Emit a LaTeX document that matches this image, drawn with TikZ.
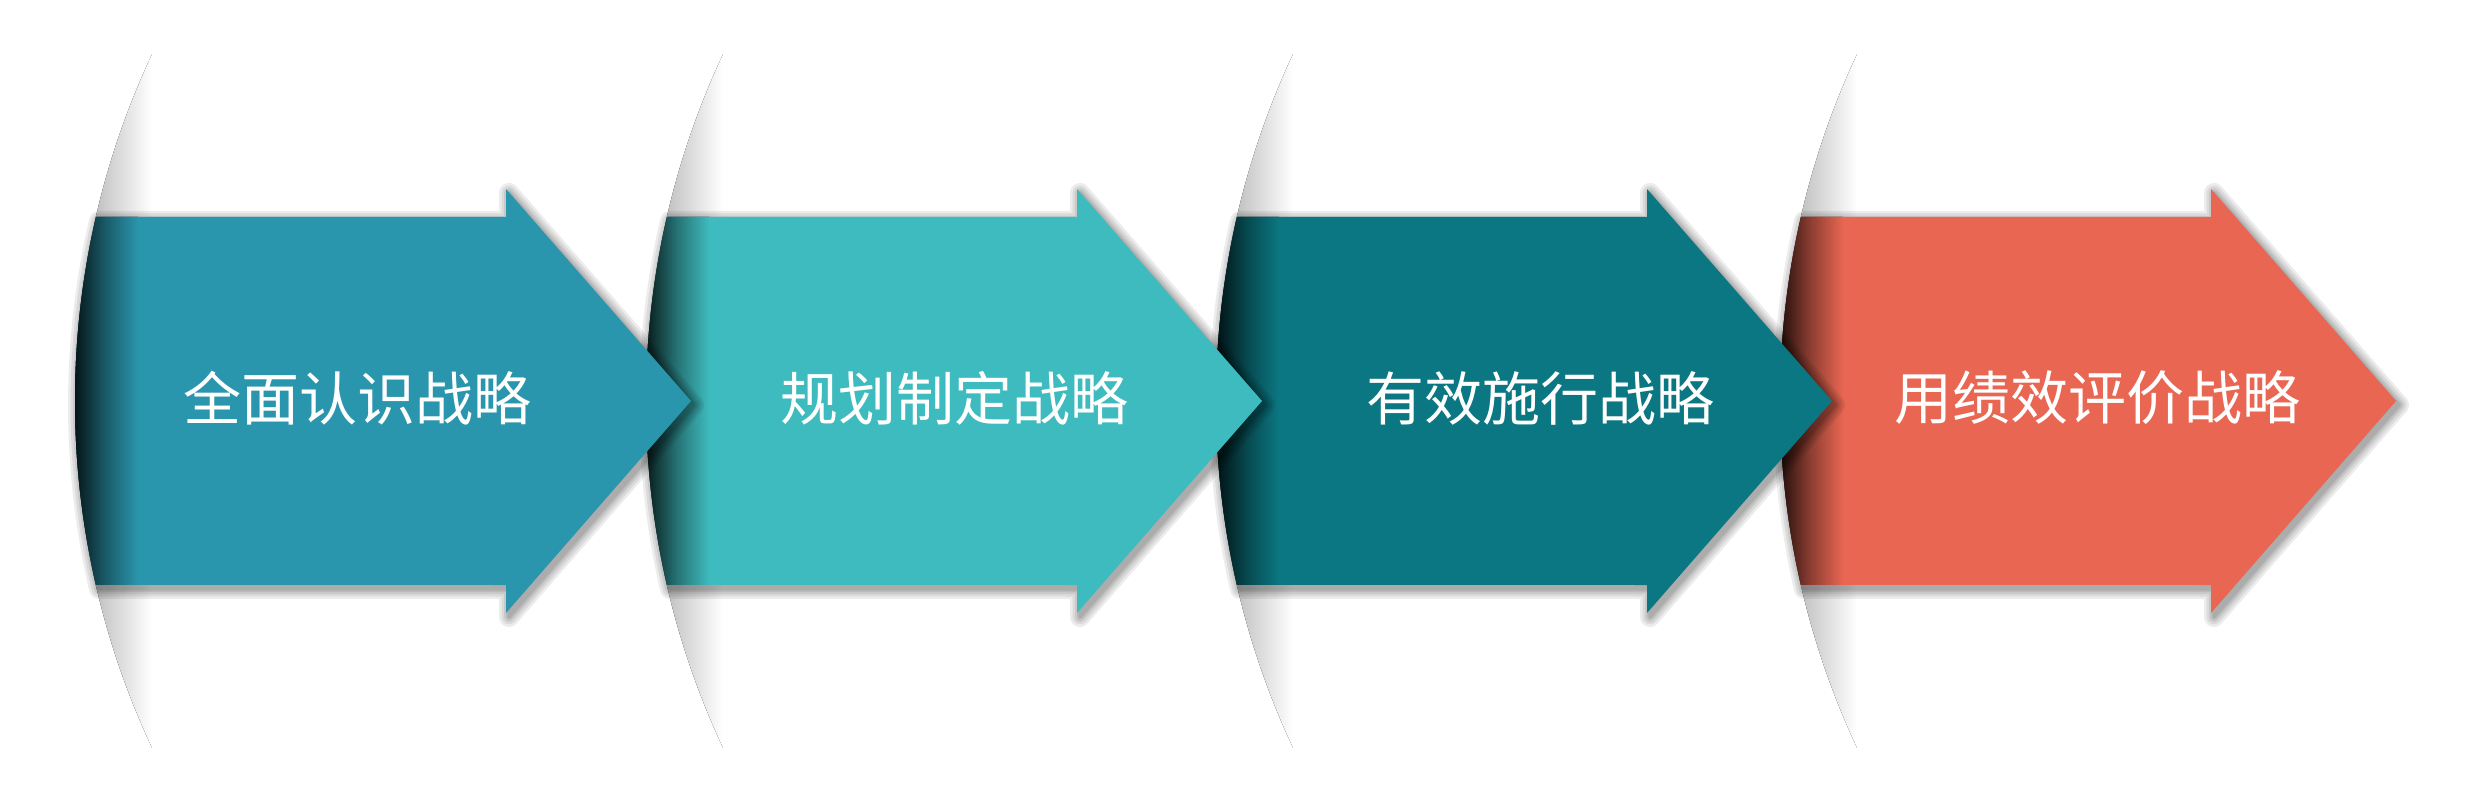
\documentclass[tikz,border=0pt]{standalone}
\usepackage{fontspec}
\newfontfamily\cjkfont{Noto Sans CJK SC}
\definecolor{cA}{HTML}{2A96AD}
\definecolor{cB}{HTML}{3EBBBE}
\definecolor{cC}{HTML}{0B7782}
\definecolor{cD}{HTML}{E86652}
\newcommand\stagepath[1]{(96+#1,587) arc[start angle=166.985, end angle=193.015, radius=817] -- (506+#1,219) -- (506+#1,191) -- (691+#1,403) -- (506+#1,615) -- (506+#1,587) -- cycle}
% #1 dx, #2 colour, #3 text, #4 node name, #5 text x
\newcommand\stagearrow[5]{%
  \begin{scope}
    \clip (892+#1,403) circle[radius=817];
    \fill[left color=black!33, right color=white] (75+#1,0) rectangle (152+#1,804);
  \end{scope}
  \foreach \w in {20,15,10,6,3}{%
    \begin{scope}[transparency group, opacity=0.075]
      \filldraw[black, line width=\w pt, line join=round, shift={(3,-4)}] \stagepath{#1};
    \end{scope}}
  \fill[#2] \stagepath{#1};
  \begin{scope}
    \clip \stagepath{#1};
    \fill[left color=#2!10!black, right color=#2, middle color=#2!60!black] (72+#1,150) rectangle (138+#1,650);
  \end{scope}
  \node[stagetext] (#4) at (#5,406) {#3};
}
\begin{document}
\begin{tikzpicture}[x=1pt,y=1pt,
  stagetext/.style={font=\cjkfont\fontsize{58}{60}\selectfont, text=white, inner sep=0pt}]
\fill[white] (0,0) rectangle (2480,804);
\useasboundingbox (0,0) rectangle (2480,804);
\stagearrow{1705}{cD}{用绩效评价战略}{s4}{2097}
\stagearrow{1141}{cC}{有效施行战略}{s3}{1540}
\stagearrow{571}{cB}{规划制定战略}{s2}{954}
\stagearrow{0}{cA}{全面认识战略}{s1}{357}
\end{tikzpicture}
\end{document}
